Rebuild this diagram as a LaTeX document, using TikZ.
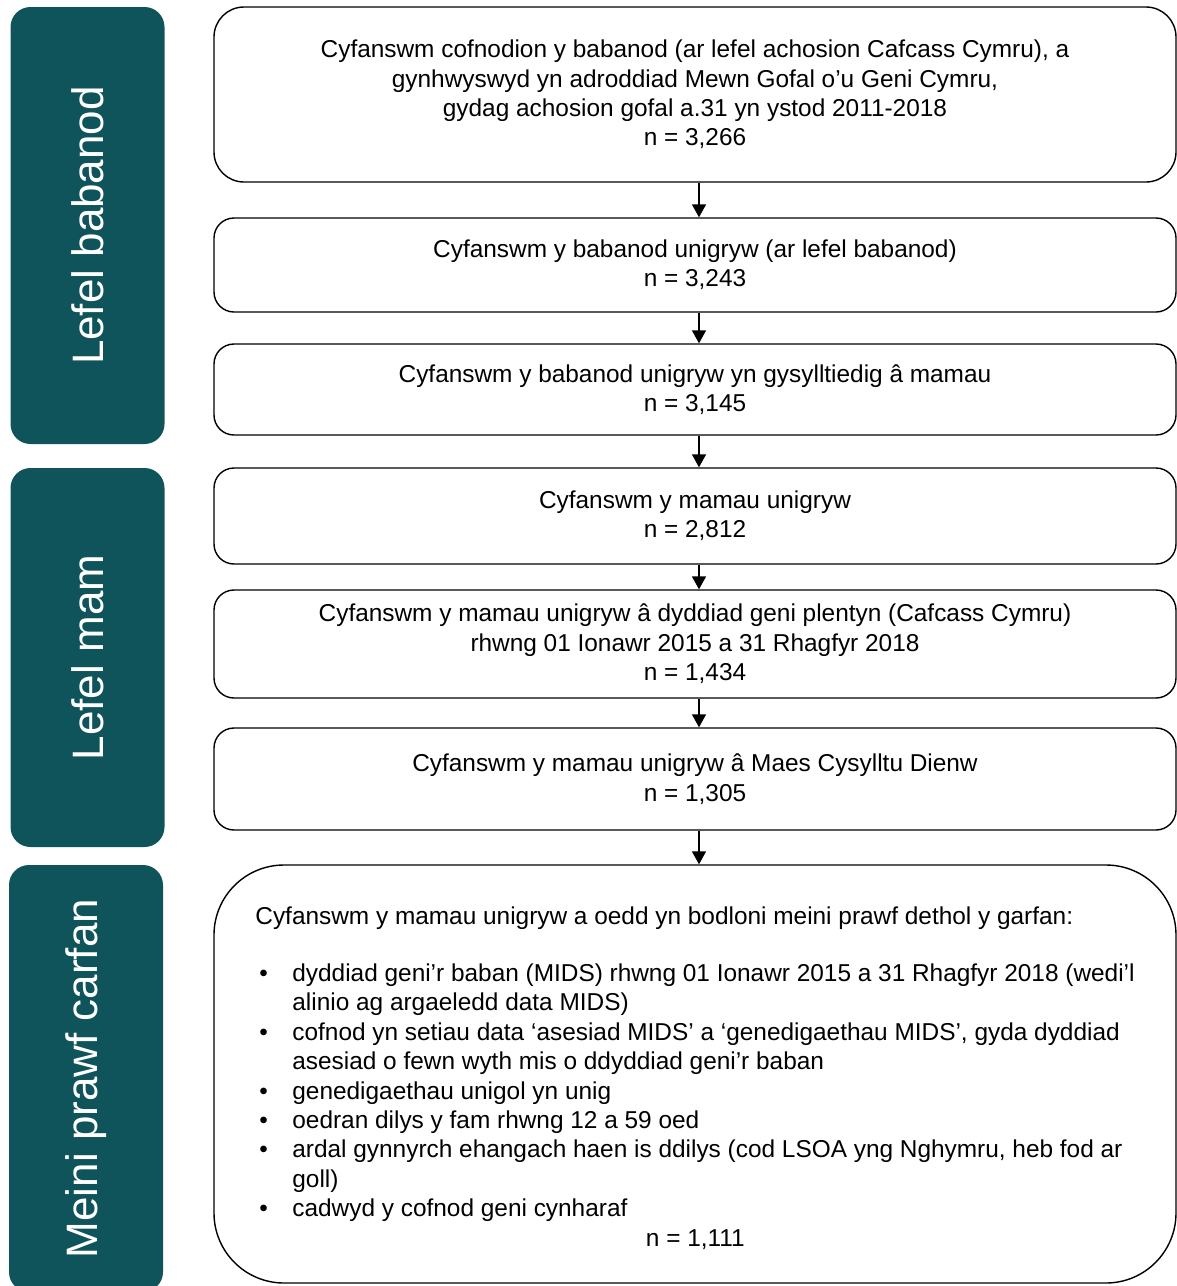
\documentclass[tikz,border=0pt]{standalone}
\usepackage{fontspec}
\setmainfont{Liberation Sans}
\usetikzlibrary{arrows.meta}
\definecolor{tealdark}{RGB}{14,84,90}

\begin{document}
\begin{tikzpicture}[x=0.5pt, y=-0.5pt, >={Triangle[length=6.5pt,width=7pt]},
    lvl/.style={fill=tealdark, rounded corners=10pt, text=white, rotate=90,
        font=\fontsize{22}{26}\selectfont, minimum height=77pt, inner sep=0pt},
    cbox/.style={draw, line width=0.7pt, rounded corners=10pt, minimum width=481pt,
        align=center, inner sep=0pt, font=\fontsize{12.2}{14.7}\selectfont},
    arr/.style={->, line width=0.8pt}]
    \useasboundingbox (0,0) rectangle (1177,1286);

    % lefelau ar y chwith
    \node[lvl, minimum width=218.5pt] (lvlBaban) at (87.5,225.5) {Lefel babanod};
    \node[lvl, minimum width=189.5pt] (lvlMam) at (87.5,657.5) {Lefel mam};
    \node[lvl, minimum width=213.5pt] (lvlCarfan) at (86,1078.5) {Meini prawf carfan};

    % blychau'r llif
    \node[cbox, minimum height=87.5pt, rounded corners=15pt] (cofnodion) at (695,94.5)
        {Cyfanswm cofnodion y babanod (ar lefel achosion Cafcass Cymru), a\\
         gynhwyswyd yn adroddiad Mewn Gofal o’u Geni Cymru,\\
         gydag achosion gofal a.31 yn ystod 2011-2018\\
         n = 3,266};
    \node[cbox, minimum height=47pt] (babanod) at (695,265)
        {Cyfanswm y babanod unigryw (ar lefel babanod)\\ n = 3,243};
    \node[cbox, minimum height=45.5pt] (cysylltiedig) at (695,389.5)
        {Cyfanswm y babanod unigryw yn gysylltiedig â mamau\\ n = 3,145};
    \node[cbox, minimum height=48pt] (mamau) at (695,516)
        {Cyfanswm y mamau unigryw\\ n = 2,812};
    \node[cbox, minimum height=54pt] (dyddiad) at (695,644)
        {Cyfanswm y mamau unigryw â dyddiad geni plentyn (Cafcass Cymru)\\
         rhwng 01 Ionawr 2015 a 31 Rhagfyr 2018\\
         n = 1,434};
    \node[cbox, minimum height=51pt] (maes) at (695,779)
        {Cyfanswm y mamau unigryw â Maes Cysylltu Dienw\\ n = 1,305};
    \node[cbox, minimum height=209pt, rounded corners=35pt] (carfan) at (695,1074) {};
    \node[anchor=north west, align=left, inner sep=0pt,
        font=\fontsize{12.2}{14.7}\selectfont] (carfanTxt) at (255,906)
        {Cyfanswm y mamau unigryw a oedd yn bodloni meini prawf dethol y garfan:\\[14pt]
         \makebox[18.5pt][l]{\hspace{2pt}\textbullet}dyddiad geni’r baban (MIDS) rhwng 01 Ionawr 2015 a 31 Rhagfyr 2018 (wedi’l\\
         \hspace*{18.5pt}alinio ag argaeledd data MIDS)\\
         \makebox[18.5pt][l]{\hspace{2pt}\textbullet}cofnod yn setiau data ‘asesiad MIDS’ a ‘genedigaethau MIDS’, gyda dyddiad\\
         \hspace*{18.5pt}asesiad o fewn wyth mis o ddyddiad geni’r baban\\
         \makebox[18.5pt][l]{\hspace{2pt}\textbullet}genedigaethau unigol yn unig\\
         \makebox[18.5pt][l]{\hspace{2pt}\textbullet}oedran dilys y fam rhwng 12 a 59 oed\\
         \makebox[18.5pt][l]{\hspace{2pt}\textbullet}ardal gynnyrch ehangach haen is ddilys (cod LSOA yng Nghymru, heb fod ar\\
         \hspace*{18.5pt}goll)\\
         \makebox[18.5pt][l]{\hspace{2pt}\textbullet}cadwyd y cofnod geni cynharaf\\
         \makebox[440pt]{n = 1,111}};

    % saethau
    \draw[arr] ([xshift=2pt]cofnodion.south) -- ([xshift=2pt]babanod.north);
    \draw[arr] ([xshift=2pt]babanod.south) -- ([xshift=2pt]cysylltiedig.north);
    \draw[arr] ([xshift=2pt]cysylltiedig.south) -- ([xshift=2pt]mamau.north);
    \draw[arr] ([xshift=2pt]mamau.south) -- ([xshift=2pt]dyddiad.north);
    \draw[arr] ([xshift=2pt]dyddiad.south) -- ([xshift=2pt]maes.north);
    \draw[arr] ([xshift=2pt]maes.south) -- ([xshift=2pt]carfan.north);
\end{tikzpicture}
\end{document}
